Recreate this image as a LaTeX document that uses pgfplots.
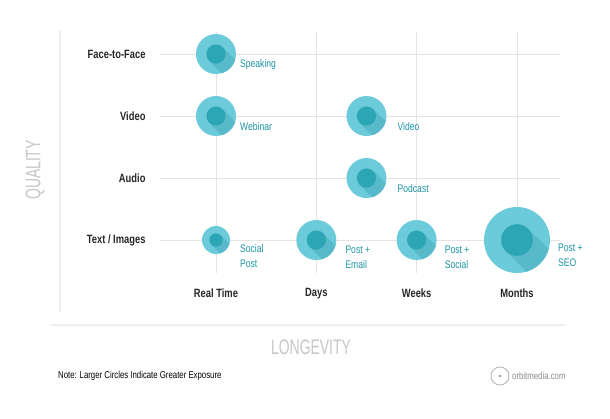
\documentclass[border=0pt]{standalone}
\usepackage{pgfplots}
\pgfplotsset{compat=1.18}
\usepackage{fontspec}
\setmainfont{Liberation Sans}[FakeStretch=0.78]

\definecolor{outerc}{HTML}{6CCBDB}
\definecolor{shadowc}{HTML}{57B9CA}
\definecolor{innerc}{HTML}{2CA6B4}
\definecolor{labelc}{HTML}{1E94A4}
\definecolor{gridc}{HTML}{E4E4E4}
\definecolor{titlec}{HTML}{C6C6C6}
\definecolor{faintc}{HTML}{EFEFEF}

% bubble: light disc, long shadow to the lower right, dark core
\pgfdeclareplotmark{bubble}{%
  \pgfpathcircle{\pgfpointorigin}{\pgfplotmarksize}%
  \pgfsetfillcolor{outerc}\pgfusepath{fill}%
  \pgfscope
    \pgfpathcircle{\pgfpointorigin}{\pgfplotmarksize}\pgfusepath{clip}%
    \pgftransformrotate{-45}%
    \pgfpathrectangle{\pgfpoint{0pt}{-0.48\pgfplotmarksize}}{\pgfpoint{2\pgfplotmarksize}{0.96\pgfplotmarksize}}%
    \pgfsetfillcolor{shadowc}\pgfusepath{fill}%
  \endpgfscope
  \pgfpathcircle{\pgfpointorigin}{0.48\pgfplotmarksize}%
  \pgfsetfillcolor{innerc}\pgfusepath{fill}%
}

% x: 0 Real Time, 1 Days, 2 Weeks, 3 Months; y: 1 Text, 2 Audio, 3 Video, 4 Face-to-Face; r = radius (pt)
\pgfplotstableread{
x   y  r
0   1  14
0   3  20
0   4  20
1   1  20
1.5 3  20
1.5 2  20
2   1  20
3   1  33
}\bubbles

\begin{document}
\begin{tikzpicture}
\path[use as bounding box, fill=white] (0,0) rectangle (610pt,418pt);
\draw[faintc, line width=1.5pt] (60pt,388pt) -- (60pt,106pt);
\draw[faintc, line width=1.5pt] (50pt,93pt) -- (565pt,93pt);

\begin{axis}[
    at={(160pt,145pt)}, anchor=south west,
    scale only axis,
    width=400pt, height=241pt,
    xmin=-0.558, xmax=3.429,
    ymin=0.468, ymax=4.355,
    axis line style={draw=none},
    major tick length=0pt,
    xtick={0,1,2,3},
    xticklabels={Real Time, Days, Weeks, Months},
    ytick={1,2,3,4},
    yticklabels={Text / Images, Audio, Video, Face-to-Face},
    xticklabel style={font=\fontsize{12}{14}\selectfont\bfseries, text=black!85, yshift=-12pt},
    yticklabel style={font=\fontsize{12}{14}\selectfont\bfseries, text=black!85, xshift=-11pt},
    grid=major,
    major grid style={gridc, line width=0.9pt},
    clip=false,
]
\addplot[scatter, only marks, mark=bubble,
    point meta=explicit, point meta min=0, point meta max=100,
    scatter/@pre marker code/.append style={/tikz/mark size=\pgfplotspointmetatransformed/10}]
    table[x=x, y=y, meta=r] {\bubbles};

\begin{scope}[every node/.style={text=labelc, font=\fontsize{11}{15}\selectfont, anchor=west, align=left, inner sep=0pt}]
\node[xshift=24pt, yshift=-11pt] at (axis cs:0,4) {Speaking};
\node[xshift=24pt, yshift=-11pt] at (axis cs:0,3) {Webinar};
\node[xshift=31pt, yshift=-11pt] at (axis cs:1.5,3) {Video};
\node[xshift=31pt, yshift=-11pt] at (axis cs:1.5,2) {Podcast};
\node[xshift=24pt, yshift=-16pt] at (axis cs:0,1) {Social\\Post};
\node[xshift=29pt, yshift=-17pt] at (axis cs:1,1) {Post +\\Email};
\node[xshift=28pt, yshift=-17pt] at (axis cs:2,1) {Post +\\Social};
\node[xshift=41pt, yshift=-15pt] at (axis cs:3,1) {Post +\\SEO};
\end{scope}
\end{axis}

\node[text=titlec, rotate=90, font=\fontsize{21}{23}\selectfont] at (35pt,248pt) {\scalebox{0.85}[1]{QUALITY}};
\node[text=titlec, font=\fontsize{21}{23}\selectfont] at (311pt,71pt) {\scalebox{0.85}[1]{LONGEVITY}};
\node[anchor=west, inner sep=0pt, font=\fontsize{10}{12}\selectfont] at (58pt,42pt) {Note: Larger Circles Indicate Greater Exposure};
\draw[black!30, line width=0.8pt] (500pt,42pt) circle (9pt);
\fill[black!40] (500pt,42pt) circle (1.3pt);
\node[anchor=west, inner sep=0pt, text=black!45, font=\fontsize{10}{12}\selectfont] at (512pt,42pt) {orbitmedia.com};
\end{tikzpicture}
\end{document}
